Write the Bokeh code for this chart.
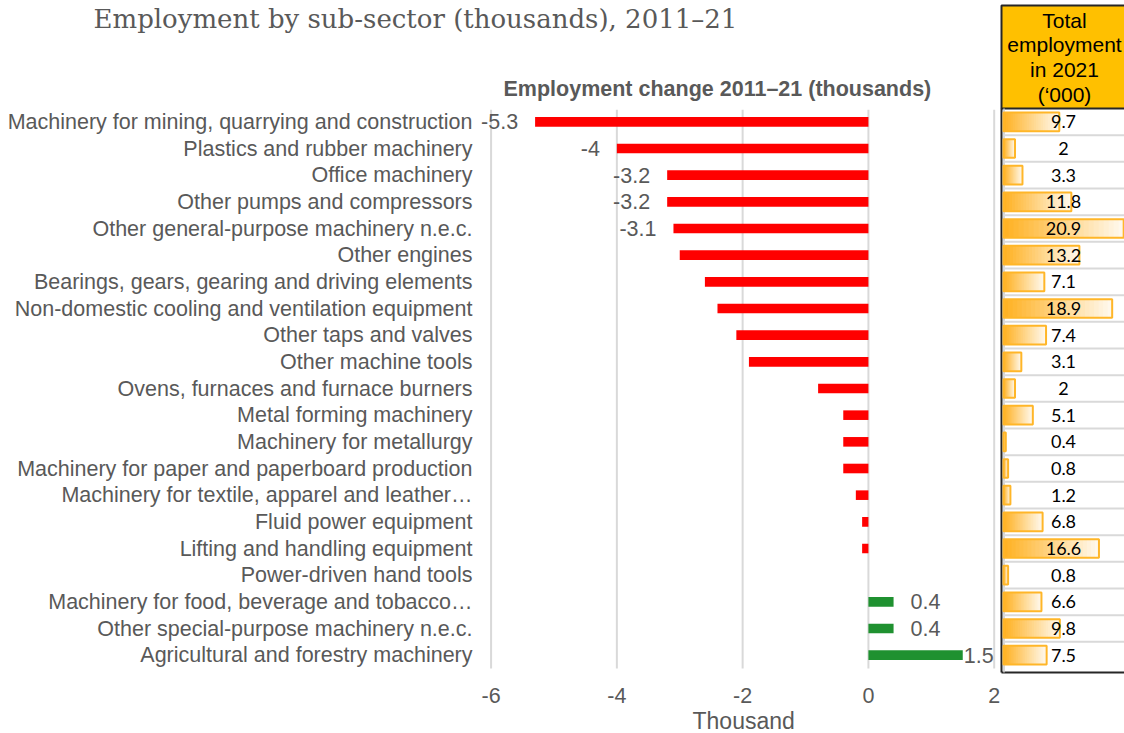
from bokeh.plotting import figure
from bokeh.models import ColumnDataSource, Range1d, FixedTicker, Title
from bokeh.embed import file_html
from bokeh.resources import INLINE
from bokeh.core.properties import value

# ---------------- data ----------------
categories = [
    "Machinery for mining, quarrying and construction",
    "Plastics and rubber machinery",
    "Office machinery",
    "Other pumps and compressors",
    "Other general-purpose machinery n.e.c.",
    "Other engines",
    "Bearings, gears, gearing and driving elements",
    "Non-domestic cooling and ventilation equipment",
    "Other taps and valves",
    "Other machine tools",
    "Ovens, furnaces and furnace burners",
    "Metal forming machinery",
    "Machinery for metallurgy",
    "Machinery for paper and paperboard production",
    "Machinery for textile, apparel and leather…",
    "Fluid power equipment",
    "Lifting and handling equipment",
    "Power-driven hand tools",
    "Machinery for food, beverage and tobacco…",
    "Other special-purpose machinery n.e.c.",
    "Agricultural and forestry machinery",
]
change_2011_21 = [-5.3, -4, -3.2, -3.2, -3.1, -3.0, -2.6, -2.4, -2.1, -1.9, -0.8,
                  -0.4, -0.4, -0.4, -0.2, -0.1, -0.1, 0.0, 0.4, 0.4, 1.5]
show_label = [True] * 5 + [False] * 13 + [True] * 3
total_2021 = [9.7, 2, 3.3, 11.8, 20.9, 13.2, 7.1, 18.9, 7.4, 3.1, 2, 5.1, 0.4,
              0.8, 1.2, 6.8, 16.6, 0.8, 6.6, 9.8, 7.5]
x_ticks = [-6, -4, -2, 0, 2]
header_lines = ["Total", "employment", "in 2021", "(\u2018000)"]
main_title = "Employment change 2011\u201321 (thousands)"
page_title = "Employment by sub-sector (thousands), 2011\u201321"
x_label = "Thousand"

# ---------------- layout constants (pixels) ----------------
W, H = 1124, 733
FRAME_BOTTOM = 674        # page y of plot frame bottom edge
ROW = 560 / len(categories)
ROW0 = 108 + ROW / 2      # page y of first row centre
PX_MAIN = 62.89           # pixels per thousand (change axis)
X_REF = 478               # page x where change = -6.2
PX_EMP = 5.75             # pixels per thousand (side panel)
EMP_ZERO = 1003           # page x of side-panel bar base

FONT = value("Liberation Sans")
GREY = "#595959"
RED = "#FF0000"
GREEN = "#1F9130"


def row_of(py):
    return (py - ROW0) / ROW


def x_of(px):
    return -6.2 + (px - X_REF) / PX_MAIN


def emp_of(px):
    return (px - EMP_ZERO) / PX_EMP


n = len(categories)
rows = list(range(n))

p = figure(width=W, height=H, title=None,
           x_range=Range1d(x_of(0), x_of(W)),
           y_range=Range1d(row_of(FRAME_BOTTOM), row_of(0)),
           y_axis_location=None,
           output_backend="svg", toolbar_location=None,
           min_border_left=0, min_border_right=0,
           min_border_top=0, min_border_bottom=H - FRAME_BOTTOM)
p.extra_x_ranges = {"emp": Range1d(emp_of(0), emp_of(W))}
p.outline_line_color = None
p.background_fill_color = "white"
p.border_fill_color = "white"
p.grid.grid_line_color = None

# page title
p.text(x=[x_of(93)], y=[row_of(3)], text=[page_title], text_baseline="top",
       text_font=value("DejaVu Serif"), text_font_size="26px", text_color=GREY)
# chart title
p.text(x=[x_of(503)], y=[row_of(88)], text=[main_title], text_baseline="middle",
       text_font=FONT, text_font_size="21.5px", text_font_style="bold", text_color=GREY)

# category labels
p.text(x=[x_of(472)] * n, y=rows, text=categories, text_align="right",
       text_baseline="middle", text_font=FONT, text_font_size="21.5px",
       text_color=GREY)

# vertical gridlines
p.segment(x0=x_ticks, y0=[-0.45] * len(x_ticks), x1=x_ticks, y1=[n - 0.5] * len(x_ticks),
          line_color="#D9D9D9", line_width=2)

# change bars
colors = [RED if v < 0 else GREEN for v in change_2011_21]
src = ColumnDataSource(dict(r=rows, val=change_2011_21, col=colors))
p.hbar(y="r", left=0, right="val", height=0.36, fill_color="col",
       line_color=None, source=src)

neg = [(r, v) for r, v, s in zip(rows, change_2011_21, show_label) if s and v < 0]
pos = [(r, v) for r, v, s in zip(rows, change_2011_21, show_label) if s and v >= 0]
neg_src = ColumnDataSource(dict(r=[a for a, b in neg], val=[b for a, b in neg],
                                txt=[f"{b:g}" for a, b in neg]))
pos_src = ColumnDataSource(dict(r=[a for a, b in pos], val=[b for a, b in pos],
                                txt=[f"{b:g}" for a, b in pos],
                                off=[17 if b < 1 else 1 for a, b in pos]))
p.text(x="val", y="r", text="txt", source=neg_src, x_offset=-17,
       text_align="right", text_baseline="middle", text_font=FONT,
       text_font_size="21.5px", text_color=GREY)
p.text(x="val", y="r", text="txt", source=pos_src, x_offset="off",
       text_align="left", text_baseline="middle", text_font=FONT,
       text_font_size="21.5px", text_color=GREY)

# x axis
p.xaxis.ticker = FixedTicker(ticks=x_ticks)
p.xaxis.major_label_overrides = {t: str(t) for t in x_ticks}
p.xaxis.axis_line_color = None
p.xaxis.major_tick_line_color = None
p.xaxis.minor_tick_line_color = None
p.xaxis.major_label_standoff = 7
p.xaxis.major_label_text_font = "Liberation Sans"
p.xaxis.major_label_text_font_size = "21.5px"
p.xaxis.major_label_text_color = GREY

p.add_layout(Title(text=x_label, align="left", offset=692, standoff=0,
                   text_font="Liberation Sans", text_font_size="23px",
                   text_font_style="normal", text_color=GREY), "below")

# ---------------- side panel: total employment in 2021 ----------------
E = "emp"
x_l = emp_of(1001)
x_r = emp_of(1200)
bottom_row = row_of(672)

p.quad(left=[x_l], right=[x_r], top=[row_of(5)], bottom=[-0.5],
       fill_color="#FFC000", line_color="#262626", line_width=2, x_range_name=E)
p.text(x=[emp_of(1064)] * 4, y=[row_of(20), row_of(44), row_of(69), row_of(94)],
       text=header_lines, text_align="center", text_baseline="middle",
       text_font=FONT, text_font_size="21px", text_color="black", x_range_name=E)

p.segment(x0=[x_l], y0=[-0.5], x1=[x_l], y1=[bottom_row],
          line_color="#262626", line_width=2, x_range_name=E)
p.segment(x0=[x_l], y0=[bottom_row], x1=[x_r], y1=[bottom_row],
          line_color="#262626", line_width=2, x_range_name=E)
p.segment(x0=[emp_of(1003.5)], y0=[-0.5], x1=[emp_of(1003.5)], y1=[bottom_row],
          line_color="#C8C8C8", line_width=1.5, x_range_name=E)
p.segment(x0=[0.0] * (n - 1), y0=[r + 0.5 for r in rows[:-1]],
          x1=[x_r] * (n - 1), y1=[r + 0.5 for r in rows[:-1]],
          line_color="#D9D9D9", line_width=2, x_range_name=E)

steps = 24
c0 = (255, 178, 36)
c1 = (255, 248, 236)
for k in range(steps):
    t = k / (steps - 1)
    col = "#%02x%02x%02x" % tuple(int(round(a + (b - a) * t)) for a, b in zip(c0, c1))
    p.hbar(y=rows, left=[v * k / steps for v in total_2021], right=total_2021,
           height=0.7, fill_color=col, line_color=None, x_range_name=E)
p.hbar(y=rows, left=0, right=total_2021, height=0.7, fill_color=None,
       line_color="#FFB628", line_width=2, x_range_name=E)

p.text(x=[emp_of(1063)] * n, y=rows, text=[f"{v:g}" for v in total_2021],
       text_align="center", text_baseline="middle", text_font=value("Lato"),
       text_font_size="18px", text_color="black", x_range_name=E)

open("out.html", "w").write(file_html(p, INLINE))
